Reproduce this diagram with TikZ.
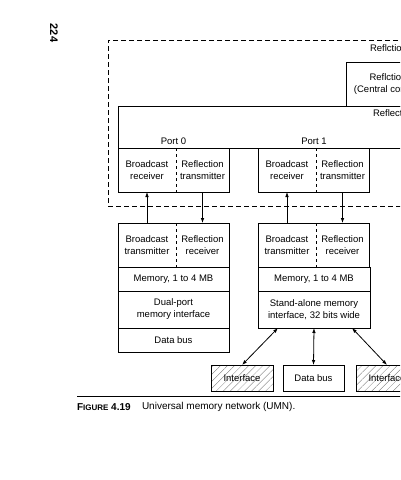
\documentclass[tikz,border=0pt]{standalone}
\usepackage{fontspec}
\setmainfont{Liberation Sans}
\usetikzlibrary{positioning, arrows.meta, patterns.meta}

\begin{document}
\begin{tikzpicture}[x=1pt, y=-1pt, line width=0.8pt,
                >={Latex[length=5pt, width=3.6pt]},
                every node/.style={font=\fontsize{9.5pt}{12pt}\selectfont, inner sep=0pt, outer sep=0pt},
                leftpart/.style={minimum width=58pt, minimum height=44pt, align=center},
                rightpart/.style={minimum width=53pt, minimum height=44pt, align=center},
                fullbox/.style={draw, minimum width=111pt, align=center},
                hatchbox/.style={draw, minimum width=62pt, minimum height=26pt,
                                 pattern={Lines[angle=45, distance=5pt, line width=0.3pt]}, pattern color=black!55},
                plainbox/.style={draw, minimum width=61pt, minimum height=26pt},
                ]
                \useasboundingbox (0,0) rectangle (400,480);
                \clip (0,0) rectangle (400,480);
                
                %Reflection part
                \node[draw, dash pattern=on 5pt off 3pt, line width=0.6pt, minimum width=342pt, minimum height=166pt] (reflnet) at (279,123) {};
                \node[anchor=west]       (reflnetlabel)      at (370,48)  {Reflction};
                \node[draw, minimum width=84pt, minimum height=44pt, align=center] (central) at (388,84) {Reflction\\(Central control)};
                \node[draw, minimum width=322pt, minimum height=42pt] (reflbus) at (279,127) {};
                \node[anchor=west]       (reflbuslabel)      at (373,113) {Reflection};
                
                %Ports
                \node[leftpart]          (rcv0)              at (147,170)  {Broadcast\\receiver};
                \node[rightpart]         (tx0)               [right=0pt of rcv0] {Reflection\\transmitter};
                \node[leftpart]          (rcv1)              at (287,170)  {Broadcast\\receiver};
                \node[rightpart]         (tx1)               [right=0pt of rcv1] {Reflection\\transmitter};
                \node                    (port0)             at (173.5,141) {Port 0};
                \node                    (port1)             at (314,141)   {Port 1};
                
                %Memory boards
                \node[leftpart]          (bt0)               at (147,245)  {Broadcast\\transmitter};
                \node[rightpart]         (rr0)               [right=0pt of bt0] {Reflection\\receiver};
                \node[fullbox, minimum height=24pt] (mem0)   [below=0pt of bt0.south west, anchor=north west] {Memory, 1 to 4 MB};
                \node[fullbox, minimum height=37pt] (dpi)    [below=0pt of mem0] {Dual-port\\memory interface};
                \node[fullbox, minimum height=24pt] (dbus0)  [below=0pt of dpi] {Data bus};
                
                \node[leftpart]          (bt1)               at (287,245)  {Broadcast\\transmitter};
                \node[rightpart]         (rr1)               [right=0pt of bt1] {Reflection\\receiver};
                \node[fullbox, minimum width=112pt, minimum height=24pt] (mem1) [below=0pt of bt1.south west, anchor=north west] {Memory, 1 to 4 MB};
                \node[fullbox, minimum width=112pt, minimum height=37pt] (sami) [below=0pt of mem1] {Stand-alone memory\\interface, 32 bits wide};
                
                \node[hatchbox]          (if0)               at (242,378)  {Interface};
                \node[plainbox]          (dbus1)             [right=10pt of if0] {Data bus};
                \node[hatchbox]          (if1)               [right=12pt of dbus1] {Interface};
                
                %Frames
                \draw (rcv0.north west) rectangle (tx0.south east);
                \draw (rcv1.north west) rectangle (tx1.south east);
                \draw (bt0.north west) rectangle (rr0.south east);
                \draw (bt1.north west) rectangle (rr1.south east);
                \draw[dashed, line width=0.6pt] (rcv0.north east) -- (rcv0.south east);
                \draw[dashed, line width=0.6pt] (rcv1.north east) -- (rcv1.south east);
                \draw[dashed, line width=0.6pt] (bt0.north east) -- (bt0.south east);
                \draw[dashed, line width=0.6pt] (bt1.north east) -- (bt1.south east);
                
                %Lines
                \draw[->] (bt0.north) -- (rcv0.south);
                \draw[->] (tx0.south) -- (rr0.north);
                \draw[->] (bt1.north) -- (rcv1.south);
                \draw[->] (tx1.south) -- (rr1.north);
                \draw[<->] ([xshift=-36pt]sami.south) -- (if0.north);
                \draw[<->] (sami.south) -- (dbus1.north);
                \draw[<->] ([xshift=38pt]sami.south) -- (if1.north);
                
                %Caption
                \coordinate (rulestart) at (77,396);
                \coordinate (ruleend)   at (420,396);
                \draw (rulestart) -- (ruleend);
                \node[anchor=west]       (fignum)            at (77,407)  {\fontsize{10pt}{12pt}\selectfont\bfseries F{\fontsize{8pt}{10pt}\selectfont IGURE} 4.19};
                \node[anchor=west]       (figtext)           at (142,407) {\fontsize{10pt}{12pt}\selectfont Universal memory network (UMN).};
                \node[rotate=-90]        (pagenum)           at (54,33)   {\fontsize{11pt}{13pt}\selectfont\bfseries 224};
\end{tikzpicture}
\end{document}
